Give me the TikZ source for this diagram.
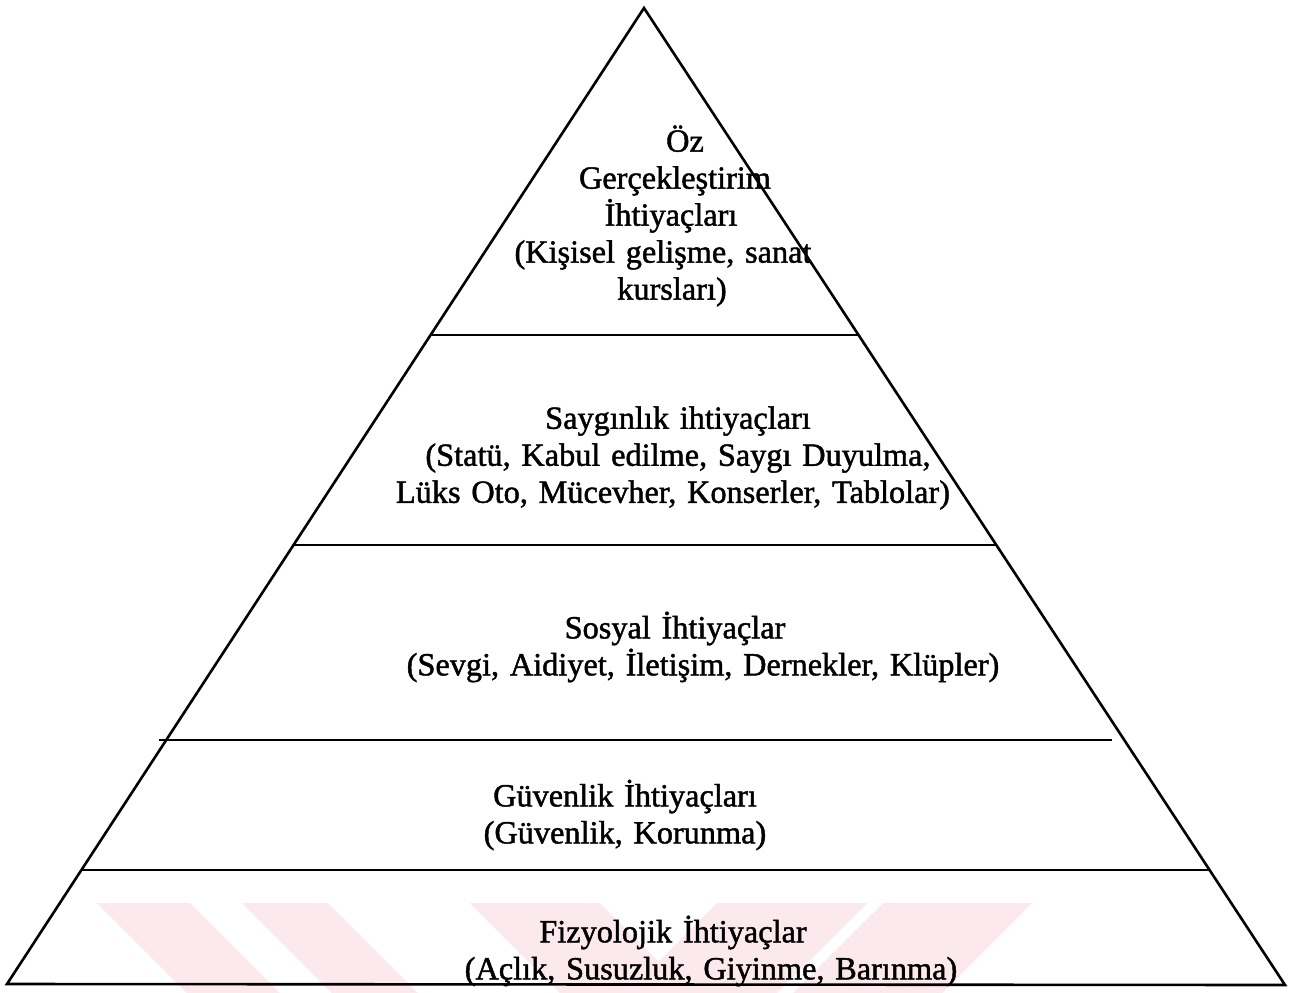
\documentclass[tikz,border=0pt]{standalone}
\usepackage{fontspec}
\setmainfont{Liberation Serif}[FakeBold=1.4]
\definecolor{wmpink}{RGB}{252,233,237}
\tikzset{
  edge/.style={line width=2.6pt, line join=miter},
  divider/.style={line width=2.2pt},
  level/.style={text width=700pt, align=center, inner sep=0pt,
    font=\fontsize{32.3}{37}\selectfont},
  mark stripe/.style={fill=wmpink, draw=none}
}
\begin{document}
\begin{tikzpicture}[x=1pt, y=-1pt]
\useasboundingbox (0,0) rectangle (1301,993);
\fill[white] (0,0) rectangle (1301,993);

% faint stripes in the bottom band
\fill[mark stripe] (97,903) -- (190,903) -- (280,993) -- (187,993) -- cycle;
\fill[mark stripe] (242,903) -- (328,903) -- (418,993) -- (332,993) -- cycle;
\fill[mark stripe] (470,903) -- (600,903) -- (690,993) -- (560,993) -- cycle;
\fill[mark stripe] (717,903) -- (867,903) -- (777,993) -- (627,993) -- cycle;
\fill[mark stripe] (883,903) -- (1032,903) -- (942,993) -- (793,993) -- cycle;

% pyramid outline
\coordinate (apex) at (644,8);
\coordinate (bl) at (7,984);
\coordinate (br) at (1285,985);
\draw[edge] (apex) -- (bl) -- (br) -- cycle;

% level dividers
\coordinate (d1l) at (432,335);  \coordinate (d1r) at (859,335);
\coordinate (d2l) at (294,545);  \coordinate (d2r) at (997,545);
\coordinate (d3l) at (159,740);  \coordinate (d3r) at (1112,740);
\coordinate (d4l) at (82,870);   \coordinate (d4r) at (1209,870);
\draw[divider] (d1l) -- (d1r);
\draw[divider] (d2l) -- (d2r);
\draw[divider] (d3l) -- (d3r);
\draw[divider] (d4l) -- (d4r);

% level labels
\node[level] (self) at (663,216) {\hspace*{44pt}Öz\\
  \hspace*{24pt}Gerçekleştirim\\
  \hspace*{16pt}İhtiyaçları\\
  (Kişisel gelişme, sanat\\
  \hspace*{18pt}kursları)};
\node[level] (esteem) at (673,458) {\hspace*{10pt}Saygınlık ihtiyaçları\\
  \hspace*{10pt}(Statü, Kabul edilme, Saygı Duyulma,\\
  Lüks Oto, Mücevher, Konserler, Tablolar)};
\node[level] (social) at (675,647) {Sosyal İhtiyaçlar\\
  \hspace*{56pt}(Sevgi, Aidiyet, İletişim, Dernekler, Klüpler)};
\node[level] (safety) at (625,815) {Güvenlik İhtiyaçları\\
  (Güvenlik, Korunma)};
\node[level] (body) at (673,951) {Fizyolojik İhtiyaçlar\\
  \hspace*{76pt}(Açlık, Susuzluk, Giyinme, Barınma)};
\end{tikzpicture}
\end{document}
